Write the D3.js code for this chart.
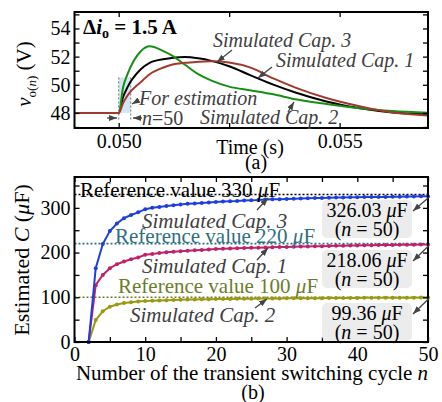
<!DOCTYPE html>
<html>
<head>
<meta charset="utf-8">
<script src="https://cdn.jsdelivr.net/npm/d3@7"></script>
<style>
  body { margin: 0; background: #fff; }
  svg text { font-family: "Liberation Serif", "Times New Roman", serif; }
</style>
</head>
<body>
<div id="chart"></div>
<script>
// ---- panel (a): output voltage transient ----
var timeS   = [0.049, 0.0500, 0.0501, 0.0502, 0.0505, 0.0507, 0.0510, 0.0512, 0.0515, 0.0518, 0.0521, 0.0525, 0.0530, 0.0535, 0.0540, 0.0547, 0.0555, 0.0562, 0.0570];
var voCap1  = [48, 48, 49.13, 49.83, 51.10, 51.56, 51.81, 51.90, 51.97, 51.88, 51.70, 51.32, 50.65, 50.01, 49.45, 48.81, 48.31, 48.03, 47.91];
var voCap2  = [48, 48, 49.83, 50.75, 52.38, 52.73, 52.41, 52.09, 51.42, 50.75, 50.29, 49.87, 49.60, 49.32, 48.97, 48.64, 48.32, 48.14, 48.02];
var voCap3  = [48, 48, 48.71, 49.24, 50.19, 50.75, 51.21, 51.42, 51.56, 51.63, 51.67, 51.59, 51.20, 50.45, 49.80, 49.06, 48.44, 48.03, 47.81];
var voltTicks = [48, 50, 52, 54];
var timeTicks = [0.050, 0.055];

// ---- panel (b): estimated capacitance ----
var cycleN = [2,3,4,5,6,7,8,9,10,11,12,13,14,15,16,17,18,19,20,21,22,23,24,25,26,27,28,29,30,31,32,33,34,35,36,37,38,39,40,41,42,43,44,45,46,47,48,49,50];
var estCap3 = [0,165,219,248,265,277,284,290,297,300,302,304,306,307.5,309,310,311,312,313,314,315,315.5,316.5,317,317.5,318.5,319,319.5,320,320.5,321,321.5,322,322,322.5,323,323,323.5,323.5,324,324,324.5,324.5,325,325,325.5,325.5,326,326.03];
var estCap1 = [0,127,150,165,174,180,185,189,195,197,199,200.5,202,203,204,205,206,207,208,208.5,209,209.5,210,210.5,211,211.5,212,212.3,212.6,213,213.3,213.6,214,214.3,214.6,215,215.3,215.6,215.9,216.2,216.5,216.7,216.9,217.1,217.3,217.5,217.7,217.9,218.06];
var estCap2 = [0,49,69,79,84,87,89,90.5,91.5,92.3,93,93.5,94,94.4,94.8,95.2,95.5,95.8,96,96.2,96.4,96.6,96.8,97,97.1,97.3,97.4,97.5,97.6,97.7,97.8,97.9,98,98.1,98.2,98.3,98.4,98.5,98.6,98.7,98.75,98.8,98.9,99,99.05,99.1,99.2,99.3,99.36];
var refValues = [330, 220, 100];
var capTicks = [0, 100, 200, 300];
var cycleTicks = [0, 10, 20, 30, 40, 50];

var W = 442, H = 402;
var svg = d3.select("#chart").append("svg").attr("width", W).attr("height", H);

var defs = svg.append("defs");
defs.append("marker").attr("id", "arr")
  .attr("markerUnits", "userSpaceOnUse")
  .attr("markerWidth", 8).attr("markerHeight", 6)
  .attr("refX", 8).attr("refY", 3).attr("orient", "auto")
  .append("path").attr("d", "M0,0 L8,3 L0,6 z").attr("fill", "#444");

function arrow(g, x1, y1, x2, y2) {
  g.append("line").attr("x1", x1).attr("y1", y1).attr("x2", x2).attr("y2", y2)
    .attr("stroke", "#444").attr("stroke-width", 1.3).attr("marker-end", "url(#arr)");
}
function label(g, x, y, txt, opt) {
  opt = opt || {};
  return g.append("text").attr("x", x).attr("y", y)
    .attr("font-size", opt.size || 20)
    .attr("font-style", opt.italic ? "italic" : null)
    .attr("fill", opt.color || "#000")
    .attr("text-anchor", opt.anchor || "start")
    .text(txt);
}

// =================== panel (a) ===================
var L = 74.5, R = 428;
var xa = d3.scaleLinear().domain([0.049, 0.057]).range([L, R]);
var ya = d3.scaleLinear().domain([46.93, 55.17]).range([128, 12]);
var ga = svg.append("g");

// estimation window
ga.append("rect").attr("x", xa(0.0500)).attr("y", ya(50.52)).attr("width", 12).attr("height", ya(48) - ya(50.52))
  .attr("fill", "#d3e7f1");
[xa(0.0500), xa(0.0500) + 12].forEach(function(x) {
  ga.append("line").attr("x1", x).attr("x2", x).attr("y1", ya(50.52)).attr("y2", 121)
    .attr("stroke", "#888").attr("stroke-width", 1.2).attr("stroke-dasharray", "2,2");
});

var lineA = function(vals) {
  return d3.line().x(function(d, i) { return xa(timeS[i]); }).y(function(d) { return ya(d); })
    .curve(d3.curveMonotoneX)(vals);
};
ga.append("path").attr("d", lineA(voCap1)).attr("fill", "none").attr("stroke", "#000").attr("stroke-width", 2);
ga.append("path").attr("d", lineA(voCap2)).attr("fill", "none").attr("stroke", "#159015").attr("stroke-width", 2);
ga.append("path").attr("d", lineA(voCap3)).attr("fill", "none").attr("stroke", "#a03a2c").attr("stroke-width", 2);

// axes
var voltMinor = [47, 48, 49, 50, 51, 52, 53, 54, 55];
var timeMinor = [0.050, 0.0525, 0.055];
var axL = ga.append("g").attr("transform", "translate(" + L + ",0)")
  .call(d3.axisLeft(ya).tickValues(voltMinor).tickSize(-5).tickPadding(4)
    .tickFormat(function(d) { return voltTicks.indexOf(d) >= 0 ? d : ""; }));
var axR = ga.append("g").attr("transform", "translate(" + R + ",0)")
  .call(d3.axisRight(ya).tickValues(voltMinor).tickSize(-5).tickFormat(""));
var axB = ga.append("g").attr("transform", "translate(0,128)")
  .call(d3.axisBottom(xa).tickValues(timeMinor).tickSize(-5).tickPadding(6)
    .tickFormat(function(d) { return timeTicks.indexOf(d) >= 0 ? d3.format(".3f")(d) : ""; }));
var axT = ga.append("g").attr("transform", "translate(0,12)")
  .call(d3.axisTop(xa).tickValues(timeMinor).tickSize(-5).tickFormat(""));
[axL, axR, axB, axT].forEach(function(a) {
  a.select(".domain").remove();
  a.selectAll("line").attr("stroke", "#000").attr("stroke-width", 1.3);
  a.selectAll("text").attr("font-size", 20).attr("font-family", "Liberation Serif").attr("fill", "#000");
});
ga.append("rect").attr("x", L).attr("y", 12).attr("width", R - L).attr("height", 116)
  .attr("fill", "none").attr("stroke", "#000").attr("stroke-width", 2);

// texts (a)
var dt = ga.append("text").attr("x", 83).attr("y", 34).attr("font-size", 21).attr("font-weight", "bold");
dt.append("tspan").text("\u0394");
dt.append("tspan").attr("font-style", "italic").text("i");
dt.append("tspan").attr("font-size", 14).attr("dy", 4).text("o");
dt.append("tspan").attr("dy", -4).text(" = 1.5 A");

var yt = ga.append("text").attr("transform", "translate(31,74) rotate(-90)").attr("text-anchor", "middle").attr("font-size", 21);
yt.append("tspan").attr("font-style", "italic").text("v");
yt.append("tspan").attr("font-size", 13).attr("dy", 5).text("o(");
yt.append("tspan").attr("font-size", 13).attr("font-style", "italic").text("n");
yt.append("tspan").attr("font-size", 13).text(")");
yt.append("tspan").attr("dy", -5).text(" (V)");

label(ga, 250, 154, "Time (s)", { anchor: "middle" });
label(ga, 256, 169, "(a)", { anchor: "middle" });

label(ga, 213, 47, "Simulated Cap. 3", { italic: true, color: "#404040" });
label(ga, 276, 67, "Simulated Cap. 1", { italic: true, color: "#404040" });
label(ga, 200, 124, "Simulated Cap. 2", { italic: true, color: "#404040" });
label(ga, 139, 105, "For estimation", { italic: true, color: "#404040" });
var n50 = label(ga, 142, 125, "", { color: "#404040" });
n50.append("tspan").attr("font-style", "italic").text("n");
n50.append("tspan").text("=50");

arrow(ga, 232, 50, 217, 62);
arrow(ga, 272, 67, 258, 78);
arrow(ga, 288, 112, 294, 102);
arrow(ga, 139, 100, 132, 104);
arrow(ga, 107, 118, 117, 118);
arrow(ga, 142, 118, 133, 118);

// =================== panel (b) ===================
var T2 = 177, B2 = 342;
var xb = d3.scaleLinear().domain([0, 50]).range([L, R]);
var yb = d3.scaleLinear().domain([0, 369]).range([B2, T2]);
var gb = svg.append("g");

var refColors = ["#000", "#2e6f80", "#6c7c2c"];
refValues.forEach(function(v, i) {
  gb.append("line").attr("x1", L).attr("x2", R).attr("y1", yb(v)).attr("y2", yb(v))
    .attr("stroke", refColors[i]).attr("stroke-width", 1.6).attr("stroke-dasharray", "2,2");
});

var series = [
  { vals: estCap2, color: "#9a9a12" },
  { vals: estCap1, color: "#c0216b" },
  { vals: estCap3, color: "#1f3fdc" }
];
series.forEach(function(s) {
  var ln = d3.line().x(function(d, i) { return xb(cycleN[i]); }).y(function(d) { return yb(d); });
  gb.append("path").attr("d", ln(s.vals)).attr("fill", "none").attr("stroke", s.color).attr("stroke-width", 2);
  gb.selectAll(null).data(s.vals).enter().append("circle")
    .attr("cx", function(d, i) { return xb(cycleN[i]); })
    .attr("cy", function(d) { return yb(d); })
    .attr("r", 2).attr("fill", s.color);
});

var capMinor = [0, 50, 100, 150, 200, 250, 300, 350];
var cycMinor = [0, 5, 10, 15, 20, 25, 30, 35, 40, 45, 50];
var bL = gb.append("g").attr("transform", "translate(" + L + ",0)")
  .call(d3.axisLeft(yb).tickValues(capMinor).tickSize(-5).tickPadding(4)
    .tickFormat(function(d) { return capTicks.indexOf(d) >= 0 ? d : ""; }));
var bR = gb.append("g").attr("transform", "translate(" + R + ",0)")
  .call(d3.axisRight(yb).tickValues(capMinor).tickSize(-5).tickFormat(""));
var bB = gb.append("g").attr("transform", "translate(0," + B2 + ")")
  .call(d3.axisBottom(xb).tickValues(cycMinor).tickSize(-5).tickPadding(5)
    .tickFormat(function(d) { return cycleTicks.indexOf(d) >= 0 ? d : ""; }));
var bT = gb.append("g").attr("transform", "translate(0," + T2 + ")")
  .call(d3.axisTop(xb).tickValues(cycMinor).tickSize(-5).tickFormat(""));
[bL, bR, bB, bT].forEach(function(a) {
  a.select(".domain").remove();
  a.selectAll("line").attr("stroke", "#000").attr("stroke-width", 1.3);
  a.selectAll("text").attr("font-size", 20).attr("font-family", "Liberation Serif").attr("fill", "#000");
});
gb.append("rect").attr("x", L).attr("y", T2).attr("width", R - L).attr("height", B2 - T2)
  .attr("fill", "none").attr("stroke", "#000").attr("stroke-width", 2);

// reference texts
function refText(x, y, v, color) {
  var t = label(gb, x, y, "", { color: color, size: 21 });
  t.append("tspan").text("Reference value " + v + " ");
  t.append("tspan").attr("font-style", "italic").text("\u03bc");
  t.append("tspan").text("F");
}
refText(80, 197, refValues[0], "#000");
refText(115, 243, refValues[1], "#2e6f80");
refText(118, 293, refValues[2], "#6c7c2c");

label(gb, 142, 228, "Simulated Cap. 3", { italic: true, color: "#404040", size: 21 });
label(gb, 142, 273, "Simulated Cap. 1", { italic: true, color: "#404040", size: 21 });
label(gb, 130, 322, "Simulated Cap. 2", { italic: true, color: "#404040", size: 21 });
arrow(gb, 257, 210, 268, 198);
arrow(gb, 257, 260, 268, 248);
arrow(gb, 255, 308, 267, 299);

// final value boxes
var finals = [
  { v: estCap3[estCap3.length - 1], y: 200 },
  { v: estCap1[estCap1.length - 1], y: 250 },
  { v: estCap2[estCap2.length - 1], y: 303 }
];
finals.forEach(function(f) {
  gb.append("rect").attr("x", 322).attr("y", f.y).attr("width", 90).attr("height", 38)
    .attr("rx", 5).attr("fill", "#ececec");
  var t1 = label(gb, 367, f.y + 17, "", { anchor: "middle" });
  t1.append("tspan").text(d3.format(".2f")(f.v) + " ");
  t1.append("tspan").attr("font-style", "italic").text("\u03bc");
  t1.append("tspan").text("F");
  var t2 = label(gb, 367, f.y + 36, "", { anchor: "middle" });
  t2.append("tspan").text("(");
  t2.append("tspan").attr("font-style", "italic").text("n");
  t2.append("tspan").text(" = 50)");
  arrow(gb, 429, yb(f.v) + 1, 413, f.y + 11);
});

var ytb = label(gb, 0, 0, "", { anchor: "middle", size: 22 }).attr("transform", "translate(29,260) rotate(-90)");
ytb.append("tspan").text("Estimated ");
ytb.append("tspan").attr("font-style", "italic").text("C");
ytb.append("tspan").text(" (");
ytb.append("tspan").attr("font-style", "italic").text("\u03bc");
ytb.append("tspan").text("F)");

var xtb = label(gb, 252, 380, "", { anchor: "middle", size: 21 });
xtb.append("tspan").text("Number of the transient switching cycle ");
xtb.append("tspan").attr("font-style", "italic").text("n");
label(gb, 253, 399, "(b)", { anchor: "middle" });
</script>
</body>
</html>
